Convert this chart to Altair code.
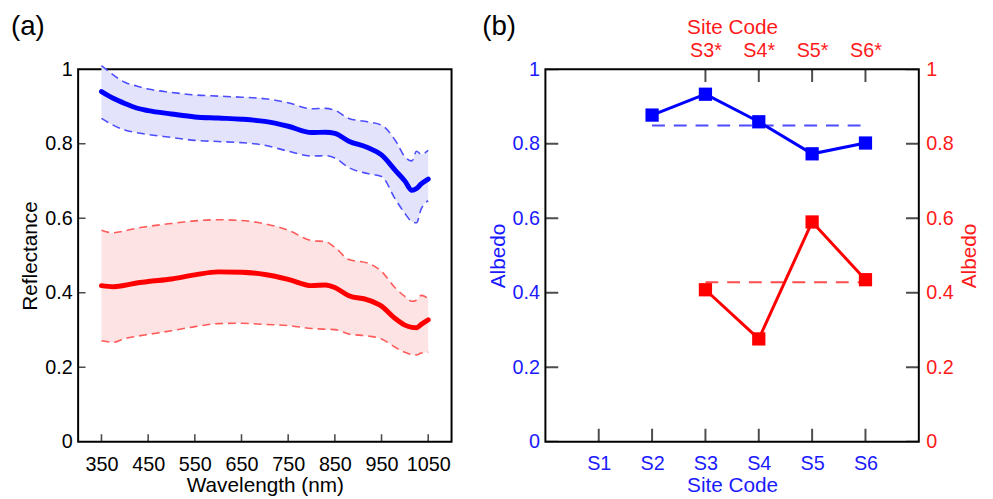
import altair as alt
import pandas as pd

FONT = "Liberation Sans"
BLUE = "#0000ff"
RED = "#ff0000"
BLUE_TXT = "#1a1aff"
RED_TXT = "#ff1a1a"

# ---------------- panel (a) data ----------------
wavelength = [350, 375, 400, 425, 450, 500, 550, 600, 650, 700, 750, 800, 830, 850,
              880, 920, 950, 980, 1000, 1015, 1025, 1035, 1050]
blue_mean  = [0.940, 0.922, 0.908, 0.896, 0.889, 0.880, 0.872, 0.869, 0.866, 0.860, 0.847, 0.830, 0.831, 0.828,
              0.807, 0.790, 0.770, 0.728, 0.700, 0.675, 0.680, 0.692, 0.705]
blue_upper = [1.010, 0.985, 0.965, 0.955, 0.947, 0.938, 0.931, 0.928, 0.925, 0.921, 0.910, 0.894, 0.895, 0.890,
              0.868, 0.859, 0.850, 0.808, 0.765, 0.754, 0.780, 0.772, 0.782]
blue_lower = [0.868, 0.850, 0.837, 0.830, 0.825, 0.817, 0.809, 0.806, 0.803, 0.796, 0.780, 0.767, 0.768, 0.762,
              0.736, 0.720, 0.712, 0.650, 0.613, 0.591, 0.588, 0.625, 0.647]
red_mean   = [0.419, 0.416, 0.420, 0.426, 0.430, 0.437, 0.448, 0.456, 0.455, 0.449, 0.436, 0.419, 0.421, 0.414,
              0.392, 0.381, 0.364, 0.330, 0.313, 0.307, 0.306, 0.315, 0.327]
red_upper  = [0.568, 0.561, 0.566, 0.573, 0.578, 0.586, 0.593, 0.596, 0.594, 0.585, 0.568, 0.540, 0.537, 0.522,
              0.489, 0.480, 0.457, 0.412, 0.390, 0.377, 0.380, 0.393, 0.384]
red_lower  = [0.271, 0.267, 0.277, 0.283, 0.288, 0.298, 0.309, 0.317, 0.318, 0.315, 0.312, 0.304, 0.302, 0.301,
              0.289, 0.284, 0.276, 0.253, 0.240, 0.234, 0.233, 0.238, 0.240]
wl_ticks = [350, 450, 550, 650, 750, 850, 950, 1050]
refl_ticks = [0, 0.2, 0.4, 0.6, 0.8, 1]

# ---------------- panel (b) data ----------------
sites = ["S1", "S2", "S3", "S4", "S5", "S6"]
blue_albedo = [None, 0.877, 0.933, 0.859, 0.773, 0.802]
red_albedo = [None, None, 0.408, 0.276, 0.590, 0.435]
blue_avg = 0.849
red_avg = 0.428
blue_avg_span = ["S2", "S6"]
red_avg_span = ["S3", "S6"]
top_sites = ["S3*", "S4*", "S5*", "S6*"]
albedo_ticks = [0, 0.2, 0.4, 0.6, 0.8, 1]

W, H = 378, 377


def ax(**kw):
    base = dict(grid=False, domain=False, ticks=False, labelFont=FONT, titleFont=FONT,
                labelFontSize=20, titleFontSize=21, titleFontWeight="normal",
                labelFlush=False, labelOverlap=False)
    base.update(kw)
    return alt.Axis(**base)


# ================= panel (a) =================
spec = pd.DataFrame({"wl": wavelength, "bm": blue_mean, "bu": blue_upper, "bl": blue_lower,
                     "rm": red_mean, "ru": red_upper, "rl": red_lower})
xs = alt.Scale(domain=[300, 1100], nice=False, zero=False)
ys = alt.Scale(domain=[0, 1], nice=False)

x_axis_a = ax(orient="bottom", values=wl_ticks, format="d", labelPadding=13,
              title="Wavelength (nm)", titleY=50, titleBaseline="alphabetic", labelColor="black")
y_axis_a = ax(orient="left", values=refl_ticks, format=".1~f", labelPadding=6,
              title="Reflectance", titleX=-42, titleBaseline="alphabetic", titleAngle=270)

XA = dict(scale=xs, axis=x_axis_a)
YA = dict(scale=ys, axis=y_axis_a)

base = alt.Chart(spec)
band_b = base.mark_area(color="#e3e3fc", opacity=1, interpolate="monotone").encode(
    x=alt.X("wl:Q", **XA), y=alt.Y("bu:Q", **YA), y2="bl:Q")
band_r = base.mark_area(color="#fde3e3", opacity=1, interpolate="monotone").encode(
    x=alt.X("wl:Q", **XA), y=alt.Y("ru:Q", **YA), y2="rl:Q")


def dline(col, color):
    return base.mark_line(color=color, strokeWidth=1.6, strokeDash=[8, 5], interpolate="monotone").encode(
        x=alt.X("wl:Q", **XA), y=alt.Y(f"{col}:Q", **YA))


def mline(col, color):
    return base.mark_line(color=color, strokeWidth=5, strokeCap="round", interpolate="monotone").encode(
        x=alt.X("wl:Q", **XA), y=alt.Y(f"{col}:Q", **YA))


ticks_xa = alt.Chart(pd.DataFrame({"v": wl_ticks})).mark_tick(
    orient="vertical", size=15, thickness=1.6, color="black", clip=True).encode(
    x=alt.X("v:Q", **XA), y=alt.YDatum(0, type="quantitative", **YA))
ticks_ya = alt.Chart(pd.DataFrame({"v": refl_ticks})).mark_tick(
    orient="horizontal", size=15, thickness=1.6, color="black", clip=True).encode(
    y=alt.Y("v:Q", **YA), x=alt.XDatum(300, type="quantitative", **XA))
label_a = alt.Chart(pd.DataFrame({"t": ["(a)"]})).mark_text(
    align="left", baseline="alphabetic", fontSize=28, font=FONT, x=-68, y=-35, color="black").encode(text="t:N")

panel_a = alt.layer(
    band_b, band_r,
    dline("bu", "#4d4dff"), dline("bl", "#4d4dff"),
    dline("ru", "#ff5a5a"), dline("rl", "#ff5a5a"),
    mline("bm", BLUE), mline("rm", RED),
    ticks_xa, ticks_ya, label_a,
).properties(width=W, height=H)

# ================= panel (b) =================
pos = {s: i + 1 for i, s in enumerate(sites)}
sdf = pd.DataFrame({"site": sites, "pos": [pos[s] for s in sites], "blue": blue_albedo, "red": red_albedo})
xs2 = alt.Scale(domain=[0, len(sites) + 1], nice=False, zero=False)
ys2 = alt.Scale(domain=[0, 1], nice=False)

bottom_expr = "{" + ",".join(f"'{pos[s]}':'{s}'" for s in sites) + "}[datum.value]"
top_expr = "{" + ",".join(f"'{pos[s.rstrip('*')]}':'{s}'" for s in top_sites) + "}[datum.value]"

bottom_axis = ax(orient="bottom", values=[pos[s] for s in sites], labelExpr=bottom_expr, labelPadding=12,
                 labelColor=BLUE_TXT, title="Site Code", titleColor=BLUE_TXT, titleY=50, titleBaseline="alphabetic")
top_axis = ax(orient="top", values=[pos[s.rstrip('*')] for s in top_sites], labelExpr=top_expr, labelPadding=9,
              labelColor=RED_TXT, title="Site Code", titleColor=RED_TXT, titleY=-36, titleBaseline="alphabetic")
left_axis = ax(orient="left", values=albedo_ticks, format=".1~f", labelPadding=6, labelColor=BLUE_TXT,
               title="Albedo", titleColor=BLUE_TXT, titleX=-41, titleBaseline="alphabetic", titleAngle=270)
right_axis = ax(orient="right", values=albedo_ticks, format=".1~f", labelPadding=7, labelColor=RED_TXT,
                title="Albedo", titleColor=RED_TXT, titleX=57, titleBaseline="alphabetic", titleAngle=270)

XB = dict(scale=xs2, axis=bottom_axis)
YB = dict(scale=ys2, axis=left_axis)
XR = dict(scale=xs2, axis=top_axis)
YR = dict(scale=ys2, axis=right_axis)

bchart = alt.Chart(sdf).transform_filter("isValid(datum.blue)")
rchart = alt.Chart(sdf).transform_filter("isValid(datum.red)")

b_line = bchart.mark_line(color=BLUE, strokeWidth=3).encode(
    x=alt.X("pos:Q", **XB), y=alt.Y("blue:Q", **YB))
b_pts = bchart.mark_point(shape="square", filled=True, size=180, opacity=1, color=BLUE).encode(
    x=alt.X("pos:Q", **XB), y=alt.Y("blue:Q", **YB))
b_ref = alt.Chart(pd.DataFrame({"x1": [pos[blue_avg_span[0]]], "x2": [pos[blue_avg_span[1]]], "y": [blue_avg]})).mark_rule(
    color="#4d4dff", strokeWidth=2, strokeDash=[13, 9]).encode(
    x=alt.X("x1:Q", **XB), x2="x2:Q", y=alt.Y("y:Q", **YB))
b_ticks_x = alt.Chart(pd.DataFrame({"v": [pos[s] for s in sites]})).mark_tick(
    orient="vertical", size=26, thickness=2, color="black", clip=True).encode(
    x=alt.X("v:Q", **XB), y=alt.YDatum(0, type="quantitative", **YB))
b_ticks_y = alt.Chart(pd.DataFrame({"v": albedo_ticks})).mark_tick(
    orient="horizontal", size=26, thickness=2, color="black", clip=True).encode(
    y=alt.Y("v:Q", **YB), x=alt.XDatum(0, type="quantitative", **XB))
label_b = alt.Chart(pd.DataFrame({"t": ["(b)"]})).mark_text(
    align="left", baseline="alphabetic", fontSize=28, font=FONT, x=-64, y=-35, color="black").encode(text="t:N")

r_ref = alt.Chart(pd.DataFrame({"x1": [pos[red_avg_span[0]]], "x2": [pos[red_avg_span[1]]], "y": [red_avg]})).mark_rule(
    color="#ff4d4d", strokeWidth=2, strokeDash=[13, 9]).encode(
    x=alt.X("x1:Q", **XR), x2="x2:Q", y=alt.Y("y:Q", **YR))
r_line = rchart.mark_line(color=RED, strokeWidth=3).encode(
    x=alt.X("pos:Q", **XR), y=alt.Y("red:Q", **YR))
r_pts = rchart.mark_point(shape="square", filled=True, size=180, opacity=1, color=RED).encode(
    x=alt.X("pos:Q", **XR), y=alt.Y("red:Q", **YR))
r_ticks_x = alt.Chart(pd.DataFrame({"v": [pos[s.rstrip('*')] for s in top_sites]})).mark_tick(
    orient="vertical", size=26, thickness=2, color="black", clip=True).encode(
    x=alt.X("v:Q", **XR), y=alt.YDatum(1, type="quantitative", **YR))
r_ticks_y = alt.Chart(pd.DataFrame({"v": albedo_ticks})).mark_tick(
    orient="horizontal", size=26, thickness=2, color="black", clip=True).encode(
    y=alt.Y("v:Q", **YR), x=alt.XDatum(len(sites) + 1, type="quantitative", **XR))

blue_layer = alt.layer(b_ref, b_line, b_pts, b_ticks_x, b_ticks_y, label_b)
red_layer = alt.layer(r_ref, r_line, r_pts, r_ticks_x, r_ticks_y)

panel_b = alt.layer(blue_layer, red_layer).resolve_scale(x="independent", y="independent").properties(
    width=W, height=H)

chart = alt.hconcat(panel_a, panel_b, spacing=29).properties(
    padding={"left": 2, "top": 1, "right": 5, "bottom": 2}
).configure(font=FONT, background="white").configure_view(stroke="black", strokeWidth=2)

chart.save("out.html", embed_options={"renderer": "svg", "actions": False})
